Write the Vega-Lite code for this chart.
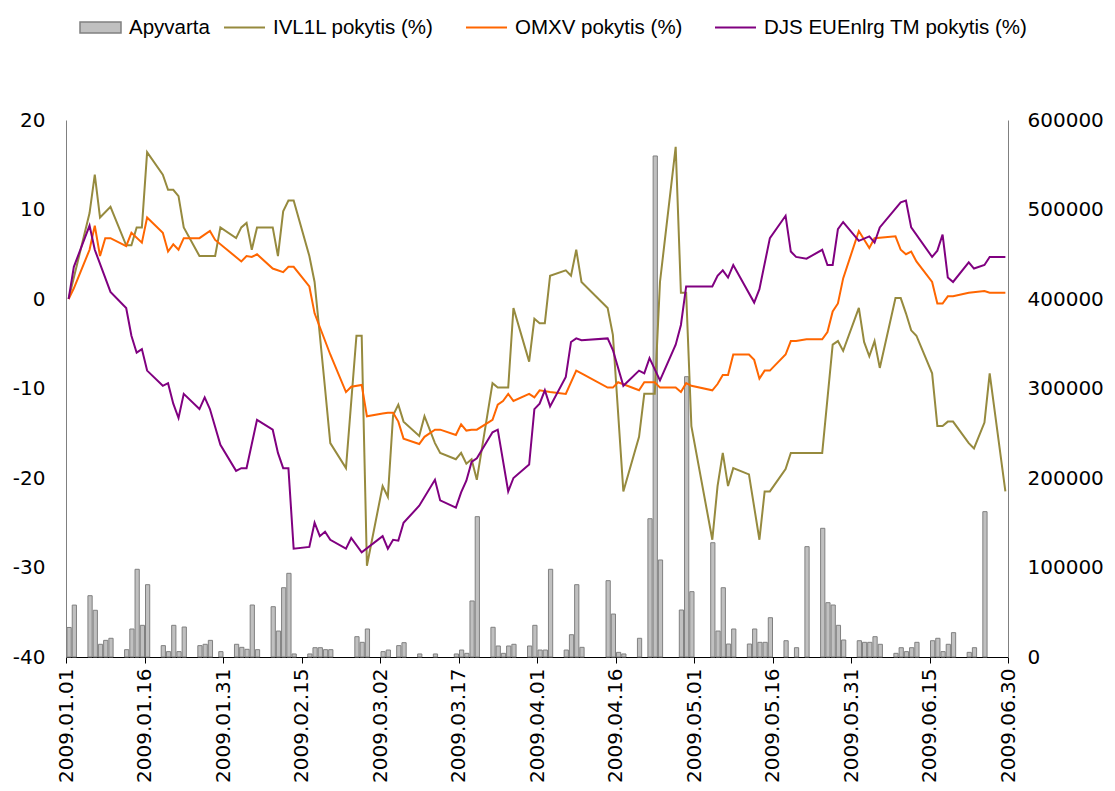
{
  "$schema": "https://vega.github.io/schema/vega-lite/v6.json",
  "width": 942,
  "height": 537,
  "autosize": {"type": "none"},
  "padding": {"left": 66, "top": 120, "right": 107, "bottom": 134},
  "background": "white",
  "config": {
    "view": {"stroke": null},
    "axis": {"grid": false, "labelFont": "DejaVu Sans", "labelFontSize": 20, "labelColor": "#000000", "title": null},
    "legend": {"labelFont": "Liberation Sans", "labelFontSize": 20.5, "labelColor": "#000000", "labelLimit": 400, "padding": 0, "offset": 0}
  },
  "datasets": {
    "bars": [
      {"date": "2009/01/01", "series": "Apyvarta", "turnover": 33000},
      {"date": "2009/01/02", "series": "Apyvarta", "turnover": 58000},
      {"date": "2009/01/05", "series": "Apyvarta", "turnover": 68500},
      {"date": "2009/01/06", "series": "Apyvarta", "turnover": 52200},
      {"date": "2009/01/07", "series": "Apyvarta", "turnover": 14200},
      {"date": "2009/01/08", "series": "Apyvarta", "turnover": 18600},
      {"date": "2009/01/09", "series": "Apyvarta", "turnover": 20900},
      {"date": "2009/01/12", "series": "Apyvarta", "turnover": 8200},
      {"date": "2009/01/13", "series": "Apyvarta", "turnover": 31300},
      {"date": "2009/01/14", "series": "Apyvarta", "turnover": 98000},
      {"date": "2009/01/15", "series": "Apyvarta", "turnover": 35400},
      {"date": "2009/01/16", "series": "Apyvarta", "turnover": 80800},
      {"date": "2009/01/19", "series": "Apyvarta", "turnover": 12700},
      {"date": "2009/01/20", "series": "Apyvarta", "turnover": 6000},
      {"date": "2009/01/21", "series": "Apyvarta", "turnover": 35400},
      {"date": "2009/01/22", "series": "Apyvarta", "turnover": 6000},
      {"date": "2009/01/23", "series": "Apyvarta", "turnover": 33500},
      {"date": "2009/01/26", "series": "Apyvarta", "turnover": 12700},
      {"date": "2009/01/27", "series": "Apyvarta", "turnover": 14200},
      {"date": "2009/01/28", "series": "Apyvarta", "turnover": 18600},
      {"date": "2009/01/30", "series": "Apyvarta", "turnover": 6000},
      {"date": "2009/02/02", "series": "Apyvarta", "turnover": 14200},
      {"date": "2009/02/03", "series": "Apyvarta", "turnover": 10800},
      {"date": "2009/02/04", "series": "Apyvarta", "turnover": 8600},
      {"date": "2009/02/05", "series": "Apyvarta", "turnover": 58100},
      {"date": "2009/02/06", "series": "Apyvarta", "turnover": 8200},
      {"date": "2009/02/09", "series": "Apyvarta", "turnover": 56200},
      {"date": "2009/02/10", "series": "Apyvarta", "turnover": 29000},
      {"date": "2009/02/11", "series": "Apyvarta", "turnover": 77400},
      {"date": "2009/02/12", "series": "Apyvarta", "turnover": 93500},
      {"date": "2009/02/13", "series": "Apyvarta", "turnover": 3400},
      {"date": "2009/02/16", "series": "Apyvarta", "turnover": 3400},
      {"date": "2009/02/17", "series": "Apyvarta", "turnover": 10400},
      {"date": "2009/02/18", "series": "Apyvarta", "turnover": 10400},
      {"date": "2009/02/19", "series": "Apyvarta", "turnover": 8200},
      {"date": "2009/02/20", "series": "Apyvarta", "turnover": 8200},
      {"date": "2009/02/25", "series": "Apyvarta", "turnover": 22700},
      {"date": "2009/02/26", "series": "Apyvarta", "turnover": 16400},
      {"date": "2009/02/27", "series": "Apyvarta", "turnover": 31300},
      {"date": "2009/03/02", "series": "Apyvarta", "turnover": 6000},
      {"date": "2009/03/03", "series": "Apyvarta", "turnover": 7800},
      {"date": "2009/03/05", "series": "Apyvarta", "turnover": 12700},
      {"date": "2009/03/06", "series": "Apyvarta", "turnover": 16000},
      {"date": "2009/03/09", "series": "Apyvarta", "turnover": 3400},
      {"date": "2009/03/12", "series": "Apyvarta", "turnover": 3400},
      {"date": "2009/03/16", "series": "Apyvarta", "turnover": 3400},
      {"date": "2009/03/17", "series": "Apyvarta", "turnover": 7800},
      {"date": "2009/03/18", "series": "Apyvarta", "turnover": 4100},
      {"date": "2009/03/19", "series": "Apyvarta", "turnover": 62600},
      {"date": "2009/03/20", "series": "Apyvarta", "turnover": 156800},
      {"date": "2009/03/23", "series": "Apyvarta", "turnover": 33200},
      {"date": "2009/03/24", "series": "Apyvarta", "turnover": 12300},
      {"date": "2009/03/25", "series": "Apyvarta", "turnover": 4100},
      {"date": "2009/03/26", "series": "Apyvarta", "turnover": 12300},
      {"date": "2009/03/27", "series": "Apyvarta", "turnover": 14200},
      {"date": "2009/03/30", "series": "Apyvarta", "turnover": 12300},
      {"date": "2009/03/31", "series": "Apyvarta", "turnover": 35400},
      {"date": "2009/04/01", "series": "Apyvarta", "turnover": 7800},
      {"date": "2009/04/02", "series": "Apyvarta", "turnover": 7800},
      {"date": "2009/04/03", "series": "Apyvarta", "turnover": 98000},
      {"date": "2009/04/06", "series": "Apyvarta", "turnover": 7800},
      {"date": "2009/04/07", "series": "Apyvarta", "turnover": 24900},
      {"date": "2009/04/08", "series": "Apyvarta", "turnover": 80800},
      {"date": "2009/04/09", "series": "Apyvarta", "turnover": 10800},
      {"date": "2009/04/14", "series": "Apyvarta", "turnover": 85300},
      {"date": "2009/04/15", "series": "Apyvarta", "turnover": 48000},
      {"date": "2009/04/16", "series": "Apyvarta", "turnover": 5200},
      {"date": "2009/04/17", "series": "Apyvarta", "turnover": 3400},
      {"date": "2009/04/20", "series": "Apyvarta", "turnover": 20900},
      {"date": "2009/04/22", "series": "Apyvarta", "turnover": 154500},
      {"date": "2009/04/23", "series": "Apyvarta", "turnover": 559800},
      {"date": "2009/04/24", "series": "Apyvarta", "turnover": 108400},
      {"date": "2009/04/28", "series": "Apyvarta", "turnover": 52500},
      {"date": "2009/04/29", "series": "Apyvarta", "turnover": 313200},
      {"date": "2009/04/30", "series": "Apyvarta", "turnover": 73000},
      {"date": "2009/05/04", "series": "Apyvarta", "turnover": 127700},
      {"date": "2009/05/05", "series": "Apyvarta", "turnover": 29000},
      {"date": "2009/05/06", "series": "Apyvarta", "turnover": 77400},
      {"date": "2009/05/07", "series": "Apyvarta", "turnover": 14500},
      {"date": "2009/05/08", "series": "Apyvarta", "turnover": 31300},
      {"date": "2009/05/11", "series": "Apyvarta", "turnover": 14500},
      {"date": "2009/05/12", "series": "Apyvarta", "turnover": 31300},
      {"date": "2009/05/13", "series": "Apyvarta", "turnover": 16400},
      {"date": "2009/05/14", "series": "Apyvarta", "turnover": 16400},
      {"date": "2009/05/15", "series": "Apyvarta", "turnover": 43900},
      {"date": "2009/05/18", "series": "Apyvarta", "turnover": 18200},
      {"date": "2009/05/20", "series": "Apyvarta", "turnover": 10400},
      {"date": "2009/05/22", "series": "Apyvarta", "turnover": 123300},
      {"date": "2009/05/25", "series": "Apyvarta", "turnover": 143800},
      {"date": "2009/05/26", "series": "Apyvarta", "turnover": 60700},
      {"date": "2009/05/27", "series": "Apyvarta", "turnover": 58100},
      {"date": "2009/05/28", "series": "Apyvarta", "turnover": 35400},
      {"date": "2009/05/29", "series": "Apyvarta", "turnover": 19000},
      {"date": "2009/06/01", "series": "Apyvarta", "turnover": 18200},
      {"date": "2009/06/02", "series": "Apyvarta", "turnover": 16400},
      {"date": "2009/06/03", "series": "Apyvarta", "turnover": 16400},
      {"date": "2009/06/04", "series": "Apyvarta", "turnover": 22700},
      {"date": "2009/06/05", "series": "Apyvarta", "turnover": 14200},
      {"date": "2009/06/08", "series": "Apyvarta", "turnover": 4100},
      {"date": "2009/06/09", "series": "Apyvarta", "turnover": 10400},
      {"date": "2009/06/10", "series": "Apyvarta", "turnover": 6000},
      {"date": "2009/06/11", "series": "Apyvarta", "turnover": 10400},
      {"date": "2009/06/12", "series": "Apyvarta", "turnover": 16400},
      {"date": "2009/06/15", "series": "Apyvarta", "turnover": 18200},
      {"date": "2009/06/16", "series": "Apyvarta", "turnover": 20900},
      {"date": "2009/06/17", "series": "Apyvarta", "turnover": 6000},
      {"date": "2009/06/18", "series": "Apyvarta", "turnover": 14200},
      {"date": "2009/06/19", "series": "Apyvarta", "turnover": 27200},
      {"date": "2009/06/22", "series": "Apyvarta", "turnover": 5200},
      {"date": "2009/06/23", "series": "Apyvarta", "turnover": 10400},
      {"date": "2009/06/25", "series": "Apyvarta", "turnover": 162400}
    ],
    "lines": [
      {"date": "2009/01/01", "series": "IVL1L pokytis (%)", "change": 0},
      {"date": "2009/01/05", "series": "IVL1L pokytis (%)", "change": 9.6},
      {"date": "2009/01/06", "series": "IVL1L pokytis (%)", "change": 13.9},
      {"date": "2009/01/07", "series": "IVL1L pokytis (%)", "change": 9.1},
      {"date": "2009/01/09", "series": "IVL1L pokytis (%)", "change": 10.3},
      {"date": "2009/01/12", "series": "IVL1L pokytis (%)", "change": 6.0},
      {"date": "2009/01/13", "series": "IVL1L pokytis (%)", "change": 6.0},
      {"date": "2009/01/14", "series": "IVL1L pokytis (%)", "change": 8.0},
      {"date": "2009/01/15", "series": "IVL1L pokytis (%)", "change": 8.0},
      {"date": "2009/01/16", "series": "IVL1L pokytis (%)", "change": 16.4},
      {"date": "2009/01/19", "series": "IVL1L pokytis (%)", "change": 13.9},
      {"date": "2009/01/20", "series": "IVL1L pokytis (%)", "change": 12.2},
      {"date": "2009/01/21", "series": "IVL1L pokytis (%)", "change": 12.2},
      {"date": "2009/01/22", "series": "IVL1L pokytis (%)", "change": 11.5},
      {"date": "2009/01/23", "series": "IVL1L pokytis (%)", "change": 8.0},
      {"date": "2009/01/26", "series": "IVL1L pokytis (%)", "change": 4.8},
      {"date": "2009/01/29", "series": "IVL1L pokytis (%)", "change": 4.8},
      {"date": "2009/01/30", "series": "IVL1L pokytis (%)", "change": 8.0},
      {"date": "2009/02/02", "series": "IVL1L pokytis (%)", "change": 6.8},
      {"date": "2009/02/03", "series": "IVL1L pokytis (%)", "change": 8.0},
      {"date": "2009/02/04", "series": "IVL1L pokytis (%)", "change": 8.5},
      {"date": "2009/02/05", "series": "IVL1L pokytis (%)", "change": 5.5},
      {"date": "2009/02/06", "series": "IVL1L pokytis (%)", "change": 8.0},
      {"date": "2009/02/09", "series": "IVL1L pokytis (%)", "change": 8.0},
      {"date": "2009/02/10", "series": "IVL1L pokytis (%)", "change": 4.8},
      {"date": "2009/02/11", "series": "IVL1L pokytis (%)", "change": 9.8},
      {"date": "2009/02/12", "series": "IVL1L pokytis (%)", "change": 11.0},
      {"date": "2009/02/13", "series": "IVL1L pokytis (%)", "change": 11.0},
      {"date": "2009/02/16", "series": "IVL1L pokytis (%)", "change": 4.8},
      {"date": "2009/02/17", "series": "IVL1L pokytis (%)", "change": 1.9},
      {"date": "2009/02/18", "series": "IVL1L pokytis (%)", "change": -4.0},
      {"date": "2009/02/19", "series": "IVL1L pokytis (%)", "change": -10.0},
      {"date": "2009/02/20", "series": "IVL1L pokytis (%)", "change": -16.1},
      {"date": "2009/02/23", "series": "IVL1L pokytis (%)", "change": -18.9},
      {"date": "2009/02/25", "series": "IVL1L pokytis (%)", "change": -4.1},
      {"date": "2009/02/26", "series": "IVL1L pokytis (%)", "change": -4.1},
      {"date": "2009/02/27", "series": "IVL1L pokytis (%)", "change": -29.8},
      {"date": "2009/03/02", "series": "IVL1L pokytis (%)", "change": -20.9},
      {"date": "2009/03/03", "series": "IVL1L pokytis (%)", "change": -22.1},
      {"date": "2009/03/04", "series": "IVL1L pokytis (%)", "change": -13.0},
      {"date": "2009/03/05", "series": "IVL1L pokytis (%)", "change": -11.8},
      {"date": "2009/03/06", "series": "IVL1L pokytis (%)", "change": -13.7},
      {"date": "2009/03/09", "series": "IVL1L pokytis (%)", "change": -15.3},
      {"date": "2009/03/10", "series": "IVL1L pokytis (%)", "change": -13.1},
      {"date": "2009/03/12", "series": "IVL1L pokytis (%)", "change": -16.1},
      {"date": "2009/03/13", "series": "IVL1L pokytis (%)", "change": -17.2},
      {"date": "2009/03/16", "series": "IVL1L pokytis (%)", "change": -17.9},
      {"date": "2009/03/17", "series": "IVL1L pokytis (%)", "change": -17.2},
      {"date": "2009/03/18", "series": "IVL1L pokytis (%)", "change": -18.4},
      {"date": "2009/03/19", "series": "IVL1L pokytis (%)", "change": -17.9},
      {"date": "2009/03/20", "series": "IVL1L pokytis (%)", "change": -20.2},
      {"date": "2009/03/23", "series": "IVL1L pokytis (%)", "change": -9.4},
      {"date": "2009/03/24", "series": "IVL1L pokytis (%)", "change": -9.9},
      {"date": "2009/03/26", "series": "IVL1L pokytis (%)", "change": -9.9},
      {"date": "2009/03/27", "series": "IVL1L pokytis (%)", "change": -1.0},
      {"date": "2009/03/30", "series": "IVL1L pokytis (%)", "change": -7.0},
      {"date": "2009/03/31", "series": "IVL1L pokytis (%)", "change": -2.2},
      {"date": "2009/04/01", "series": "IVL1L pokytis (%)", "change": -2.7},
      {"date": "2009/04/02", "series": "IVL1L pokytis (%)", "change": -2.7},
      {"date": "2009/04/03", "series": "IVL1L pokytis (%)", "change": 2.6},
      {"date": "2009/04/06", "series": "IVL1L pokytis (%)", "change": 3.2},
      {"date": "2009/04/07", "series": "IVL1L pokytis (%)", "change": 2.6},
      {"date": "2009/04/08", "series": "IVL1L pokytis (%)", "change": 5.5},
      {"date": "2009/04/09", "series": "IVL1L pokytis (%)", "change": 1.9},
      {"date": "2009/04/14", "series": "IVL1L pokytis (%)", "change": -1.0},
      {"date": "2009/04/15", "series": "IVL1L pokytis (%)", "change": -4.0},
      {"date": "2009/04/17", "series": "IVL1L pokytis (%)", "change": -21.5},
      {"date": "2009/04/20", "series": "IVL1L pokytis (%)", "change": -15.4},
      {"date": "2009/04/21", "series": "IVL1L pokytis (%)", "change": -10.6},
      {"date": "2009/04/23", "series": "IVL1L pokytis (%)", "change": -10.6},
      {"date": "2009/04/24", "series": "IVL1L pokytis (%)", "change": 1.9},
      {"date": "2009/04/27", "series": "IVL1L pokytis (%)", "change": 17.0},
      {"date": "2009/04/28", "series": "IVL1L pokytis (%)", "change": 0.7},
      {"date": "2009/04/29", "series": "IVL1L pokytis (%)", "change": 0.7},
      {"date": "2009/04/30", "series": "IVL1L pokytis (%)", "change": -14.2},
      {"date": "2009/05/04", "series": "IVL1L pokytis (%)", "change": -26.9},
      {"date": "2009/05/05", "series": "IVL1L pokytis (%)", "change": -20.9},
      {"date": "2009/05/06", "series": "IVL1L pokytis (%)", "change": -17.2},
      {"date": "2009/05/07", "series": "IVL1L pokytis (%)", "change": -20.9},
      {"date": "2009/05/08", "series": "IVL1L pokytis (%)", "change": -18.9},
      {"date": "2009/05/11", "series": "IVL1L pokytis (%)", "change": -19.6},
      {"date": "2009/05/13", "series": "IVL1L pokytis (%)", "change": -26.9},
      {"date": "2009/05/14", "series": "IVL1L pokytis (%)", "change": -21.5},
      {"date": "2009/05/15", "series": "IVL1L pokytis (%)", "change": -21.5},
      {"date": "2009/05/18", "series": "IVL1L pokytis (%)", "change": -19.0},
      {"date": "2009/05/19", "series": "IVL1L pokytis (%)", "change": -17.2},
      {"date": "2009/05/25", "series": "IVL1L pokytis (%)", "change": -17.2},
      {"date": "2009/05/27", "series": "IVL1L pokytis (%)", "change": -5.1},
      {"date": "2009/05/28", "series": "IVL1L pokytis (%)", "change": -4.7},
      {"date": "2009/05/29", "series": "IVL1L pokytis (%)", "change": -5.8},
      {"date": "2009/06/01", "series": "IVL1L pokytis (%)", "change": -1.0},
      {"date": "2009/06/02", "series": "IVL1L pokytis (%)", "change": -4.8},
      {"date": "2009/06/03", "series": "IVL1L pokytis (%)", "change": -6.4},
      {"date": "2009/06/04", "series": "IVL1L pokytis (%)", "change": -4.7},
      {"date": "2009/06/05", "series": "IVL1L pokytis (%)", "change": -7.7},
      {"date": "2009/06/08", "series": "IVL1L pokytis (%)", "change": 0.1},
      {"date": "2009/06/09", "series": "IVL1L pokytis (%)", "change": 0.1},
      {"date": "2009/06/10", "series": "IVL1L pokytis (%)", "change": -1.6},
      {"date": "2009/06/11", "series": "IVL1L pokytis (%)", "change": -3.5},
      {"date": "2009/06/12", "series": "IVL1L pokytis (%)", "change": -4.1},
      {"date": "2009/06/15", "series": "IVL1L pokytis (%)", "change": -8.3},
      {"date": "2009/06/16", "series": "IVL1L pokytis (%)", "change": -14.2},
      {"date": "2009/06/17", "series": "IVL1L pokytis (%)", "change": -14.2},
      {"date": "2009/06/18", "series": "IVL1L pokytis (%)", "change": -13.7},
      {"date": "2009/06/19", "series": "IVL1L pokytis (%)", "change": -13.7},
      {"date": "2009/06/22", "series": "IVL1L pokytis (%)", "change": -16.1},
      {"date": "2009/06/23", "series": "IVL1L pokytis (%)", "change": -16.7},
      {"date": "2009/06/25", "series": "IVL1L pokytis (%)", "change": -13.8},
      {"date": "2009/06/26", "series": "IVL1L pokytis (%)", "change": -8.3},
      {"date": "2009/06/29", "series": "IVL1L pokytis (%)", "change": -21.5},

      {"date": "2009/01/01", "series": "OMXV pokytis (%)", "change": 0},
      {"date": "2009/01/02", "series": "OMXV pokytis (%)", "change": 1.2},
      {"date": "2009/01/05", "series": "OMXV pokytis (%)", "change": 5.5},
      {"date": "2009/01/06", "series": "OMXV pokytis (%)", "change": 8.2},
      {"date": "2009/01/07", "series": "OMXV pokytis (%)", "change": 4.8},
      {"date": "2009/01/08", "series": "OMXV pokytis (%)", "change": 6.8},
      {"date": "2009/01/09", "series": "OMXV pokytis (%)", "change": 6.8},
      {"date": "2009/01/12", "series": "OMXV pokytis (%)", "change": 5.9},
      {"date": "2009/01/13", "series": "OMXV pokytis (%)", "change": 7.4},
      {"date": "2009/01/15", "series": "OMXV pokytis (%)", "change": 6.3},
      {"date": "2009/01/16", "series": "OMXV pokytis (%)", "change": 9.1},
      {"date": "2009/01/19", "series": "OMXV pokytis (%)", "change": 7.4},
      {"date": "2009/01/20", "series": "OMXV pokytis (%)", "change": 5.3},
      {"date": "2009/01/21", "series": "OMXV pokytis (%)", "change": 6.1},
      {"date": "2009/01/22", "series": "OMXV pokytis (%)", "change": 5.5},
      {"date": "2009/01/23", "series": "OMXV pokytis (%)", "change": 6.8},
      {"date": "2009/01/26", "series": "OMXV pokytis (%)", "change": 6.8},
      {"date": "2009/01/28", "series": "OMXV pokytis (%)", "change": 7.6},
      {"date": "2009/01/29", "series": "OMXV pokytis (%)", "change": 6.6},
      {"date": "2009/02/03", "series": "OMXV pokytis (%)", "change": 4.2},
      {"date": "2009/02/04", "series": "OMXV pokytis (%)", "change": 4.8},
      {"date": "2009/02/05", "series": "OMXV pokytis (%)", "change": 4.7},
      {"date": "2009/02/06", "series": "OMXV pokytis (%)", "change": 5.0},
      {"date": "2009/02/09", "series": "OMXV pokytis (%)", "change": 3.4},
      {"date": "2009/02/11", "series": "OMXV pokytis (%)", "change": 3.0},
      {"date": "2009/02/12", "series": "OMXV pokytis (%)", "change": 3.6},
      {"date": "2009/02/13", "series": "OMXV pokytis (%)", "change": 3.6},
      {"date": "2009/02/16", "series": "OMXV pokytis (%)", "change": 1.4},
      {"date": "2009/02/17", "series": "OMXV pokytis (%)", "change": -1.6},
      {"date": "2009/02/20", "series": "OMXV pokytis (%)", "change": -6.2},
      {"date": "2009/02/23", "series": "OMXV pokytis (%)", "change": -10.4},
      {"date": "2009/02/24", "series": "OMXV pokytis (%)", "change": -9.8},
      {"date": "2009/02/26", "series": "OMXV pokytis (%)", "change": -9.6},
      {"date": "2009/02/27", "series": "OMXV pokytis (%)", "change": -13.1},
      {"date": "2009/03/02", "series": "OMXV pokytis (%)", "change": -12.8},
      {"date": "2009/03/03", "series": "OMXV pokytis (%)", "change": -12.7},
      {"date": "2009/03/04", "series": "OMXV pokytis (%)", "change": -12.7},
      {"date": "2009/03/05", "series": "OMXV pokytis (%)", "change": -13.7},
      {"date": "2009/03/06", "series": "OMXV pokytis (%)", "change": -15.6},
      {"date": "2009/03/09", "series": "OMXV pokytis (%)", "change": -16.2},
      {"date": "2009/03/10", "series": "OMXV pokytis (%)", "change": -15.4},
      {"date": "2009/03/12", "series": "OMXV pokytis (%)", "change": -14.6},
      {"date": "2009/03/13", "series": "OMXV pokytis (%)", "change": -14.6},
      {"date": "2009/03/16", "series": "OMXV pokytis (%)", "change": -15.2},
      {"date": "2009/03/17", "series": "OMXV pokytis (%)", "change": -14.0},
      {"date": "2009/03/18", "series": "OMXV pokytis (%)", "change": -14.7},
      {"date": "2009/03/19", "series": "OMXV pokytis (%)", "change": -14.6},
      {"date": "2009/03/20", "series": "OMXV pokytis (%)", "change": -14.6},
      {"date": "2009/03/23", "series": "OMXV pokytis (%)", "change": -13.5},
      {"date": "2009/03/24", "series": "OMXV pokytis (%)", "change": -11.8},
      {"date": "2009/03/25", "series": "OMXV pokytis (%)", "change": -11.4},
      {"date": "2009/03/26", "series": "OMXV pokytis (%)", "change": -10.6},
      {"date": "2009/03/27", "series": "OMXV pokytis (%)", "change": -11.4},
      {"date": "2009/03/30", "series": "OMXV pokytis (%)", "change": -10.6},
      {"date": "2009/03/31", "series": "OMXV pokytis (%)", "change": -11.0},
      {"date": "2009/04/01", "series": "OMXV pokytis (%)", "change": -10.2},
      {"date": "2009/04/03", "series": "OMXV pokytis (%)", "change": -10.4},
      {"date": "2009/04/06", "series": "OMXV pokytis (%)", "change": -10.6},
      {"date": "2009/04/08", "series": "OMXV pokytis (%)", "change": -8.0},
      {"date": "2009/04/09", "series": "OMXV pokytis (%)", "change": -8.3},
      {"date": "2009/04/14", "series": "OMXV pokytis (%)", "change": -9.9},
      {"date": "2009/04/15", "series": "OMXV pokytis (%)", "change": -9.9},
      {"date": "2009/04/16", "series": "OMXV pokytis (%)", "change": -9.3},
      {"date": "2009/04/20", "series": "OMXV pokytis (%)", "change": -10.2},
      {"date": "2009/04/21", "series": "OMXV pokytis (%)", "change": -9.3},
      {"date": "2009/04/23", "series": "OMXV pokytis (%)", "change": -9.3},
      {"date": "2009/04/24", "series": "OMXV pokytis (%)", "change": -9.9},
      {"date": "2009/04/27", "series": "OMXV pokytis (%)", "change": -9.9},
      {"date": "2009/04/28", "series": "OMXV pokytis (%)", "change": -10.4},
      {"date": "2009/04/29", "series": "OMXV pokytis (%)", "change": -9.4},
      {"date": "2009/04/30", "series": "OMXV pokytis (%)", "change": -9.7},
      {"date": "2009/05/04", "series": "OMXV pokytis (%)", "change": -10.2},
      {"date": "2009/05/05", "series": "OMXV pokytis (%)", "change": -9.5},
      {"date": "2009/05/06", "series": "OMXV pokytis (%)", "change": -8.5},
      {"date": "2009/05/07", "series": "OMXV pokytis (%)", "change": -8.5},
      {"date": "2009/05/08", "series": "OMXV pokytis (%)", "change": -6.2},
      {"date": "2009/05/11", "series": "OMXV pokytis (%)", "change": -6.2},
      {"date": "2009/05/12", "series": "OMXV pokytis (%)", "change": -6.8},
      {"date": "2009/05/13", "series": "OMXV pokytis (%)", "change": -8.9},
      {"date": "2009/05/14", "series": "OMXV pokytis (%)", "change": -8.0},
      {"date": "2009/05/15", "series": "OMXV pokytis (%)", "change": -8.0},
      {"date": "2009/05/18", "series": "OMXV pokytis (%)", "change": -6.2},
      {"date": "2009/05/19", "series": "OMXV pokytis (%)", "change": -4.7},
      {"date": "2009/05/20", "series": "OMXV pokytis (%)", "change": -4.7},
      {"date": "2009/05/22", "series": "OMXV pokytis (%)", "change": -4.5},
      {"date": "2009/05/25", "series": "OMXV pokytis (%)", "change": -4.5},
      {"date": "2009/05/26", "series": "OMXV pokytis (%)", "change": -3.7},
      {"date": "2009/05/27", "series": "OMXV pokytis (%)", "change": -1.4},
      {"date": "2009/05/28", "series": "OMXV pokytis (%)", "change": -0.5},
      {"date": "2009/05/29", "series": "OMXV pokytis (%)", "change": 2.3},
      {"date": "2009/06/01", "series": "OMXV pokytis (%)", "change": 7.6},
      {"date": "2009/06/03", "series": "OMXV pokytis (%)", "change": 5.7},
      {"date": "2009/06/04", "series": "OMXV pokytis (%)", "change": 6.8},
      {"date": "2009/06/08", "series": "OMXV pokytis (%)", "change": 7.0},
      {"date": "2009/06/09", "series": "OMXV pokytis (%)", "change": 5.5},
      {"date": "2009/06/10", "series": "OMXV pokytis (%)", "change": 5.0},
      {"date": "2009/06/11", "series": "OMXV pokytis (%)", "change": 5.3},
      {"date": "2009/06/12", "series": "OMXV pokytis (%)", "change": 4.2},
      {"date": "2009/06/15", "series": "OMXV pokytis (%)", "change": 1.9},
      {"date": "2009/06/16", "series": "OMXV pokytis (%)", "change": -0.5},
      {"date": "2009/06/17", "series": "OMXV pokytis (%)", "change": -0.5},
      {"date": "2009/06/18", "series": "OMXV pokytis (%)", "change": 0.3},
      {"date": "2009/06/19", "series": "OMXV pokytis (%)", "change": 0.3},
      {"date": "2009/06/22", "series": "OMXV pokytis (%)", "change": 0.7},
      {"date": "2009/06/25", "series": "OMXV pokytis (%)", "change": 0.9},
      {"date": "2009/06/26", "series": "OMXV pokytis (%)", "change": 0.7},
      {"date": "2009/06/29", "series": "OMXV pokytis (%)", "change": 0.7},

      {"date": "2009/01/01", "series": "DJS EUEnlrg TM pokytis (%)", "change": 0},
      {"date": "2009/01/02", "series": "DJS EUEnlrg TM pokytis (%)", "change": 3.6},
      {"date": "2009/01/05", "series": "DJS EUEnlrg TM pokytis (%)", "change": 8.2},
      {"date": "2009/01/06", "series": "DJS EUEnlrg TM pokytis (%)", "change": 5.5},
      {"date": "2009/01/09", "series": "DJS EUEnlrg TM pokytis (%)", "change": 0.8},
      {"date": "2009/01/12", "series": "DJS EUEnlrg TM pokytis (%)", "change": -1.0},
      {"date": "2009/01/13", "series": "DJS EUEnlrg TM pokytis (%)", "change": -4.1},
      {"date": "2009/01/14", "series": "DJS EUEnlrg TM pokytis (%)", "change": -6.0},
      {"date": "2009/01/15", "series": "DJS EUEnlrg TM pokytis (%)", "change": -5.6},
      {"date": "2009/01/16", "series": "DJS EUEnlrg TM pokytis (%)", "change": -8.0},
      {"date": "2009/01/19", "series": "DJS EUEnlrg TM pokytis (%)", "change": -9.7},
      {"date": "2009/01/20", "series": "DJS EUEnlrg TM pokytis (%)", "change": -9.4},
      {"date": "2009/01/21", "series": "DJS EUEnlrg TM pokytis (%)", "change": -11.7},
      {"date": "2009/01/22", "series": "DJS EUEnlrg TM pokytis (%)", "change": -13.3},
      {"date": "2009/01/23", "series": "DJS EUEnlrg TM pokytis (%)", "change": -10.6},
      {"date": "2009/01/26", "series": "DJS EUEnlrg TM pokytis (%)", "change": -12.3},
      {"date": "2009/01/27", "series": "DJS EUEnlrg TM pokytis (%)", "change": -11.0},
      {"date": "2009/01/28", "series": "DJS EUEnlrg TM pokytis (%)", "change": -12.3},
      {"date": "2009/01/30", "series": "DJS EUEnlrg TM pokytis (%)", "change": -16.3},
      {"date": "2009/02/02", "series": "DJS EUEnlrg TM pokytis (%)", "change": -19.2},
      {"date": "2009/02/03", "series": "DJS EUEnlrg TM pokytis (%)", "change": -18.9},
      {"date": "2009/02/04", "series": "DJS EUEnlrg TM pokytis (%)", "change": -18.9},
      {"date": "2009/02/06", "series": "DJS EUEnlrg TM pokytis (%)", "change": -13.5},
      {"date": "2009/02/09", "series": "DJS EUEnlrg TM pokytis (%)", "change": -14.6},
      {"date": "2009/02/10", "series": "DJS EUEnlrg TM pokytis (%)", "change": -17.2},
      {"date": "2009/02/11", "series": "DJS EUEnlrg TM pokytis (%)", "change": -18.9},
      {"date": "2009/02/12", "series": "DJS EUEnlrg TM pokytis (%)", "change": -18.9},
      {"date": "2009/02/13", "series": "DJS EUEnlrg TM pokytis (%)", "change": -27.9},
      {"date": "2009/02/16", "series": "DJS EUEnlrg TM pokytis (%)", "change": -27.7},
      {"date": "2009/02/17", "series": "DJS EUEnlrg TM pokytis (%)", "change": -25.0},
      {"date": "2009/02/18", "series": "DJS EUEnlrg TM pokytis (%)", "change": -26.5},
      {"date": "2009/02/19", "series": "DJS EUEnlrg TM pokytis (%)", "change": -26.0},
      {"date": "2009/02/20", "series": "DJS EUEnlrg TM pokytis (%)", "change": -26.9},
      {"date": "2009/02/23", "series": "DJS EUEnlrg TM pokytis (%)", "change": -27.9},
      {"date": "2009/02/24", "series": "DJS EUEnlrg TM pokytis (%)", "change": -26.7},
      {"date": "2009/02/26", "series": "DJS EUEnlrg TM pokytis (%)", "change": -28.3},
      {"date": "2009/03/02", "series": "DJS EUEnlrg TM pokytis (%)", "change": -26.5},
      {"date": "2009/03/03", "series": "DJS EUEnlrg TM pokytis (%)", "change": -27.9},
      {"date": "2009/03/04", "series": "DJS EUEnlrg TM pokytis (%)", "change": -26.9},
      {"date": "2009/03/05", "series": "DJS EUEnlrg TM pokytis (%)", "change": -27.0},
      {"date": "2009/03/06", "series": "DJS EUEnlrg TM pokytis (%)", "change": -25.0},
      {"date": "2009/03/09", "series": "DJS EUEnlrg TM pokytis (%)", "change": -23.1},
      {"date": "2009/03/12", "series": "DJS EUEnlrg TM pokytis (%)", "change": -20.2},
      {"date": "2009/03/13", "series": "DJS EUEnlrg TM pokytis (%)", "change": -22.5},
      {"date": "2009/03/16", "series": "DJS EUEnlrg TM pokytis (%)", "change": -23.3},
      {"date": "2009/03/17", "series": "DJS EUEnlrg TM pokytis (%)", "change": -21.6},
      {"date": "2009/03/18", "series": "DJS EUEnlrg TM pokytis (%)", "change": -20.3},
      {"date": "2009/03/19", "series": "DJS EUEnlrg TM pokytis (%)", "change": -18.2},
      {"date": "2009/03/20", "series": "DJS EUEnlrg TM pokytis (%)", "change": -17.8},
      {"date": "2009/03/23", "series": "DJS EUEnlrg TM pokytis (%)", "change": -14.9},
      {"date": "2009/03/24", "series": "DJS EUEnlrg TM pokytis (%)", "change": -14.6},
      {"date": "2009/03/26", "series": "DJS EUEnlrg TM pokytis (%)", "change": -21.5},
      {"date": "2009/03/27", "series": "DJS EUEnlrg TM pokytis (%)", "change": -20.0},
      {"date": "2009/03/30", "series": "DJS EUEnlrg TM pokytis (%)", "change": -18.5},
      {"date": "2009/03/31", "series": "DJS EUEnlrg TM pokytis (%)", "change": -12.3},
      {"date": "2009/04/01", "series": "DJS EUEnlrg TM pokytis (%)", "change": -11.7},
      {"date": "2009/04/02", "series": "DJS EUEnlrg TM pokytis (%)", "change": -10.2},
      {"date": "2009/04/03", "series": "DJS EUEnlrg TM pokytis (%)", "change": -12.0},
      {"date": "2009/04/06", "series": "DJS EUEnlrg TM pokytis (%)", "change": -8.7},
      {"date": "2009/04/07", "series": "DJS EUEnlrg TM pokytis (%)", "change": -4.8},
      {"date": "2009/04/08", "series": "DJS EUEnlrg TM pokytis (%)", "change": -4.4},
      {"date": "2009/04/09", "series": "DJS EUEnlrg TM pokytis (%)", "change": -4.6},
      {"date": "2009/04/14", "series": "DJS EUEnlrg TM pokytis (%)", "change": -4.4},
      {"date": "2009/04/15", "series": "DJS EUEnlrg TM pokytis (%)", "change": -5.7},
      {"date": "2009/04/17", "series": "DJS EUEnlrg TM pokytis (%)", "change": -9.7},
      {"date": "2009/04/20", "series": "DJS EUEnlrg TM pokytis (%)", "change": -8.0},
      {"date": "2009/04/21", "series": "DJS EUEnlrg TM pokytis (%)", "change": -8.3},
      {"date": "2009/04/22", "series": "DJS EUEnlrg TM pokytis (%)", "change": -6.6},
      {"date": "2009/04/24", "series": "DJS EUEnlrg TM pokytis (%)", "change": -9.1},
      {"date": "2009/04/27", "series": "DJS EUEnlrg TM pokytis (%)", "change": -5.1},
      {"date": "2009/04/28", "series": "DJS EUEnlrg TM pokytis (%)", "change": -2.9},
      {"date": "2009/04/29", "series": "DJS EUEnlrg TM pokytis (%)", "change": 1.4},
      {"date": "2009/05/04", "series": "DJS EUEnlrg TM pokytis (%)", "change": 1.4},
      {"date": "2009/05/05", "series": "DJS EUEnlrg TM pokytis (%)", "change": 2.6},
      {"date": "2009/05/06", "series": "DJS EUEnlrg TM pokytis (%)", "change": 3.2},
      {"date": "2009/05/07", "series": "DJS EUEnlrg TM pokytis (%)", "change": 2.4},
      {"date": "2009/05/08", "series": "DJS EUEnlrg TM pokytis (%)", "change": 3.8},
      {"date": "2009/05/12", "series": "DJS EUEnlrg TM pokytis (%)", "change": -0.4},
      {"date": "2009/05/13", "series": "DJS EUEnlrg TM pokytis (%)", "change": 1.1},
      {"date": "2009/05/15", "series": "DJS EUEnlrg TM pokytis (%)", "change": 6.8},
      {"date": "2009/05/18", "series": "DJS EUEnlrg TM pokytis (%)", "change": 9.3},
      {"date": "2009/05/19", "series": "DJS EUEnlrg TM pokytis (%)", "change": 5.3},
      {"date": "2009/05/20", "series": "DJS EUEnlrg TM pokytis (%)", "change": 4.7},
      {"date": "2009/05/22", "series": "DJS EUEnlrg TM pokytis (%)", "change": 4.5},
      {"date": "2009/05/25", "series": "DJS EUEnlrg TM pokytis (%)", "change": 5.5},
      {"date": "2009/05/26", "series": "DJS EUEnlrg TM pokytis (%)", "change": 3.8},
      {"date": "2009/05/27", "series": "DJS EUEnlrg TM pokytis (%)", "change": 3.8},
      {"date": "2009/05/28", "series": "DJS EUEnlrg TM pokytis (%)", "change": 7.8},
      {"date": "2009/05/29", "series": "DJS EUEnlrg TM pokytis (%)", "change": 8.6},
      {"date": "2009/06/01", "series": "DJS EUEnlrg TM pokytis (%)", "change": 6.5},
      {"date": "2009/06/03", "series": "DJS EUEnlrg TM pokytis (%)", "change": 7.0},
      {"date": "2009/06/04", "series": "DJS EUEnlrg TM pokytis (%)", "change": 6.3},
      {"date": "2009/06/05", "series": "DJS EUEnlrg TM pokytis (%)", "change": 8.0},
      {"date": "2009/06/08", "series": "DJS EUEnlrg TM pokytis (%)", "change": 10.1},
      {"date": "2009/06/09", "series": "DJS EUEnlrg TM pokytis (%)", "change": 10.8},
      {"date": "2009/06/10", "series": "DJS EUEnlrg TM pokytis (%)", "change": 11.0},
      {"date": "2009/06/11", "series": "DJS EUEnlrg TM pokytis (%)", "change": 8.0},
      {"date": "2009/06/15", "series": "DJS EUEnlrg TM pokytis (%)", "change": 4.7},
      {"date": "2009/06/16", "series": "DJS EUEnlrg TM pokytis (%)", "change": 5.4},
      {"date": "2009/06/17", "series": "DJS EUEnlrg TM pokytis (%)", "change": 7.2},
      {"date": "2009/06/18", "series": "DJS EUEnlrg TM pokytis (%)", "change": 2.4},
      {"date": "2009/06/19", "series": "DJS EUEnlrg TM pokytis (%)", "change": 1.9},
      {"date": "2009/06/22", "series": "DJS EUEnlrg TM pokytis (%)", "change": 4.1},
      {"date": "2009/06/23", "series": "DJS EUEnlrg TM pokytis (%)", "change": 3.4},
      {"date": "2009/06/25", "series": "DJS EUEnlrg TM pokytis (%)", "change": 3.8},
      {"date": "2009/06/26", "series": "DJS EUEnlrg TM pokytis (%)", "change": 4.7},
      {"date": "2009/06/29", "series": "DJS EUEnlrg TM pokytis (%)", "change": 4.7}
    ]
  },
  "encoding": {
    "x": {
      "field": "date",
      "type": "temporal",
      "timeUnit": "yearmonthdate",
      "scale": {
        "domain": [{"year": 2009, "month": 1, "date": 1}, {"year": 2009, "month": 6, "date": 30}],
        "nice": false
      },
      "axis": {
        "title": null,
        "values": [
          {"year": 2009, "month": 1, "date": 1},
          {"year": 2009, "month": 1, "date": 16},
          {"year": 2009, "month": 1, "date": 31},
          {"year": 2009, "month": 2, "date": 15},
          {"year": 2009, "month": 3, "date": 2},
          {"year": 2009, "month": 3, "date": 17},
          {"year": 2009, "month": 4, "date": 1},
          {"year": 2009, "month": 4, "date": 16},
          {"year": 2009, "month": 5, "date": 1},
          {"year": 2009, "month": 5, "date": 16},
          {"year": 2009, "month": 5, "date": 31},
          {"year": 2009, "month": 6, "date": 15},
          {"year": 2009, "month": 6, "date": 30}
        ],
        "format": "%Y.%m.%d",
        "formatType": "time",
        "labelAngle": -90,
        "labelAlign": "right",
        "labelBaseline": "middle",
        "labelPadding": 5,
        "tickSize": 6,
        "tickColor": "#000000",
        "domainColor": "#000000",
        "labelFontSize": 20
      }
    }
  },
  "layer": [
    {
      "data": {"name": "bars"},
      "mark": {"type": "bar", "stroke": "#808080", "strokeWidth": 1, "timeUnitBandSize": 0.8, "timeUnitBandPosition": 0.1},
      "encoding": {
        "y": {
          "field": "turnover",
          "type": "quantitative",
          "scale": {"domain": [0, 600000], "nice": false},
          "axis": {
            "orient": "right",
            "title": null,
            "values": [0, 100000, 200000, 300000, 400000, 500000, 600000],
            "format": "d",
            "ticks": false,
            "labelPadding": 19,
            "domainColor": "#808080",
            "labelFontSize": 20
          }
        },
        "fill": {
          "field": "series",
          "type": "nominal",
          "scale": {"domain": ["Apyvarta"], "range": ["#c0c0c0"]},
          "legend": {
            "title": null,
            "orient": "none",
            "direction": "horizontal",
            "legendX": 13,
            "legendY": -114,
            "labelOffset": 7,
            "symbolType": "M-1,-0.27H1V0.27H-1Z",
            "symbolSize": 1681,
            "symbolStrokeColor": "#808080",
            "symbolStrokeWidth": 1.5
          }
        }
      }
    },
    {
      "data": {"name": "lines"},
      "mark": {"type": "line", "strokeWidth": 2},
      "encoding": {
        "x": {
          "field": "date",
          "type": "temporal",
          "timeUnit": "yearmonthdate",
          "bandPosition": 0.5
        },
        "y": {
          "field": "change",
          "type": "quantitative",
          "scale": {"domain": [-40, 20], "nice": false},
          "axis": {
            "orient": "left",
            "title": null,
            "values": [-40, -30, -20, -10, 0, 10, 20],
            "labelExpr": "'' + datum.value",
            "ticks": false,
            "labelPadding": 21,
            "domainColor": "#808080",
            "labelFontSize": 20
          }
        },
        "stroke": {
          "field": "series",
          "type": "nominal",
          "scale": {
            "domain": ["IVL1L pokytis (%)", "OMXV pokytis (%)", "DJS EUEnlrg TM pokytis (%)"],
            "range": ["#968a3e", "#ff6600", "#800080"]
          },
          "legend": {
            "title": null,
            "orient": "none",
            "direction": "horizontal",
            "legendX": 157,
            "legendY": -114,
            "columnPadding": 28,
            "labelOffset": 7,
            "symbolType": "M-1,0H1",
            "symbolSize": 1681,
            "symbolStrokeWidth": 2
          }
        }
      }
    }
  ],
  "resolve": {"scale": {"y": "independent"}}
}
